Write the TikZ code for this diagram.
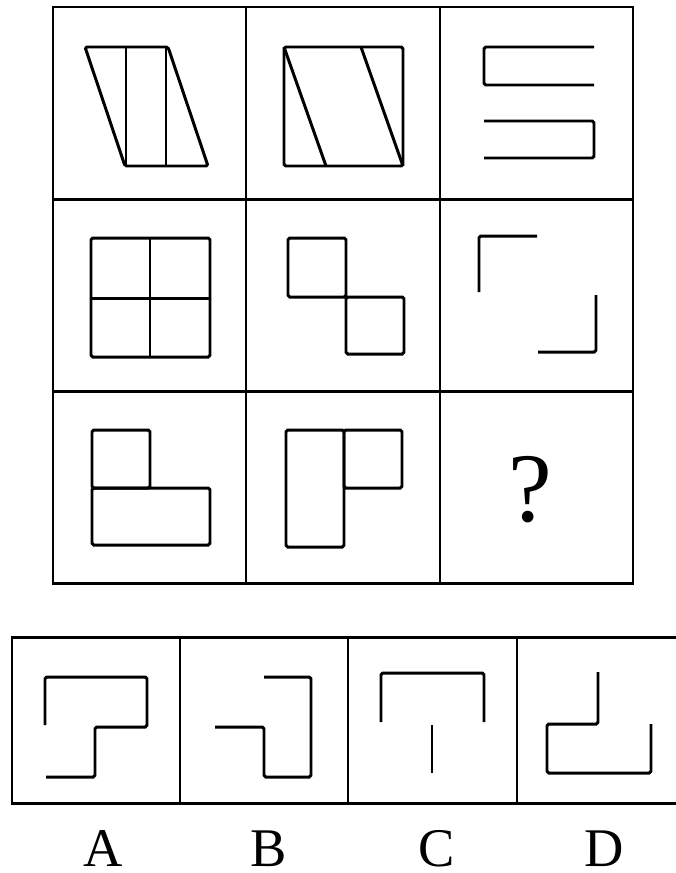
\documentclass[tikz,border=0pt]{standalone}
\usepackage{fontspec}
\setmainfont{Liberation Serif}
\begin{document}
\begin{tikzpicture}[x=0.02cm,y=-0.02cm,line width=1.7pt]
				\useasboundingbox (0,0) rectangle (676,873);

				% grid 3x3
				\draw (53,7) rectangle (633,583);
				\foreach \x in {246,440}{
						\draw (\x,7) -- (\x,583);
					}
				\foreach \y in {199,391}{
						\draw (53,\y) -- (633,\y);
					}

				% row 1
				\draw[rounded corners=1pt] (85,47) -- (168,47) -- (208,166) -- (125,166) -- cycle;
				\draw (126,47) -- (126,166);
				\draw (166,47) -- (166,166);

				\draw[rounded corners=1pt] (284,47) rectangle (403,166);
				\draw (284,47) -- (326,166);
				\draw (361,47) -- (403,166);

				\draw[rounded corners=1pt] (594,47) -- (484,47) -- (484,85) -- (594,85);
				\draw[rounded corners=1pt] (484,121) -- (594,121) -- (594,158) -- (484,158);

				% row 2
				\draw[rounded corners=1pt] (91,238) rectangle (210,357);
				\draw (150,238) -- (150,357);
				\draw (91,298) -- (210,298);

				\draw[rounded corners=1pt] (288,238) rectangle (346,297);
				\draw[rounded corners=1pt] (346,297) rectangle (404,354);

				\draw[rounded corners=1pt] (537,236) -- (479,236) -- (479,292);
				\draw[rounded corners=1pt] (596,295) -- (596,352) -- (538,352);

				% row 3
				\draw[rounded corners=1pt] (92,430) rectangle (150,488);
				\draw[rounded corners=1pt] (92,488) rectangle (210,545);

				\draw[rounded corners=1pt] (286,430) rectangle (344,547);
				\draw[rounded corners=1pt] (344,430) rectangle (402,488);

				\node[inner sep=0pt] (Q) at (530,490) {\fontsize{56}{60}\selectfont ?};

				% options
				\draw (676,637) -- (12,637) -- (12,803) -- (676,803);
				\foreach \x in {180,348,517}{
						\draw (\x,637) -- (\x,803);
					}

				\draw[rounded corners=1pt] (45,725) -- (45,677) -- (147,677) -- (147,727) -- (95,727) -- (95,777) -- (46,777);
				\draw[rounded corners=1pt] (264,677) -- (311,677) -- (311,777) -- (264,777) -- (264,727) -- (215,727);
				\draw[rounded corners=1pt] (381,722) -- (381,673) -- (484,673) -- (484,722);
				\draw (432,725) -- (432,773);
				\draw[rounded corners=1pt] (598,672) -- (598,724) -- (547,724) -- (547,773) -- (651,773) -- (651,724);

				\foreach \l/\x in {A/103,B/269,C/437,D/604}{
						\node[inner sep=0pt, anchor=base] (\l) at (\x,866) {\fontsize{31}{34}\selectfont \l};
					}
			\end{tikzpicture}
\end{document}
